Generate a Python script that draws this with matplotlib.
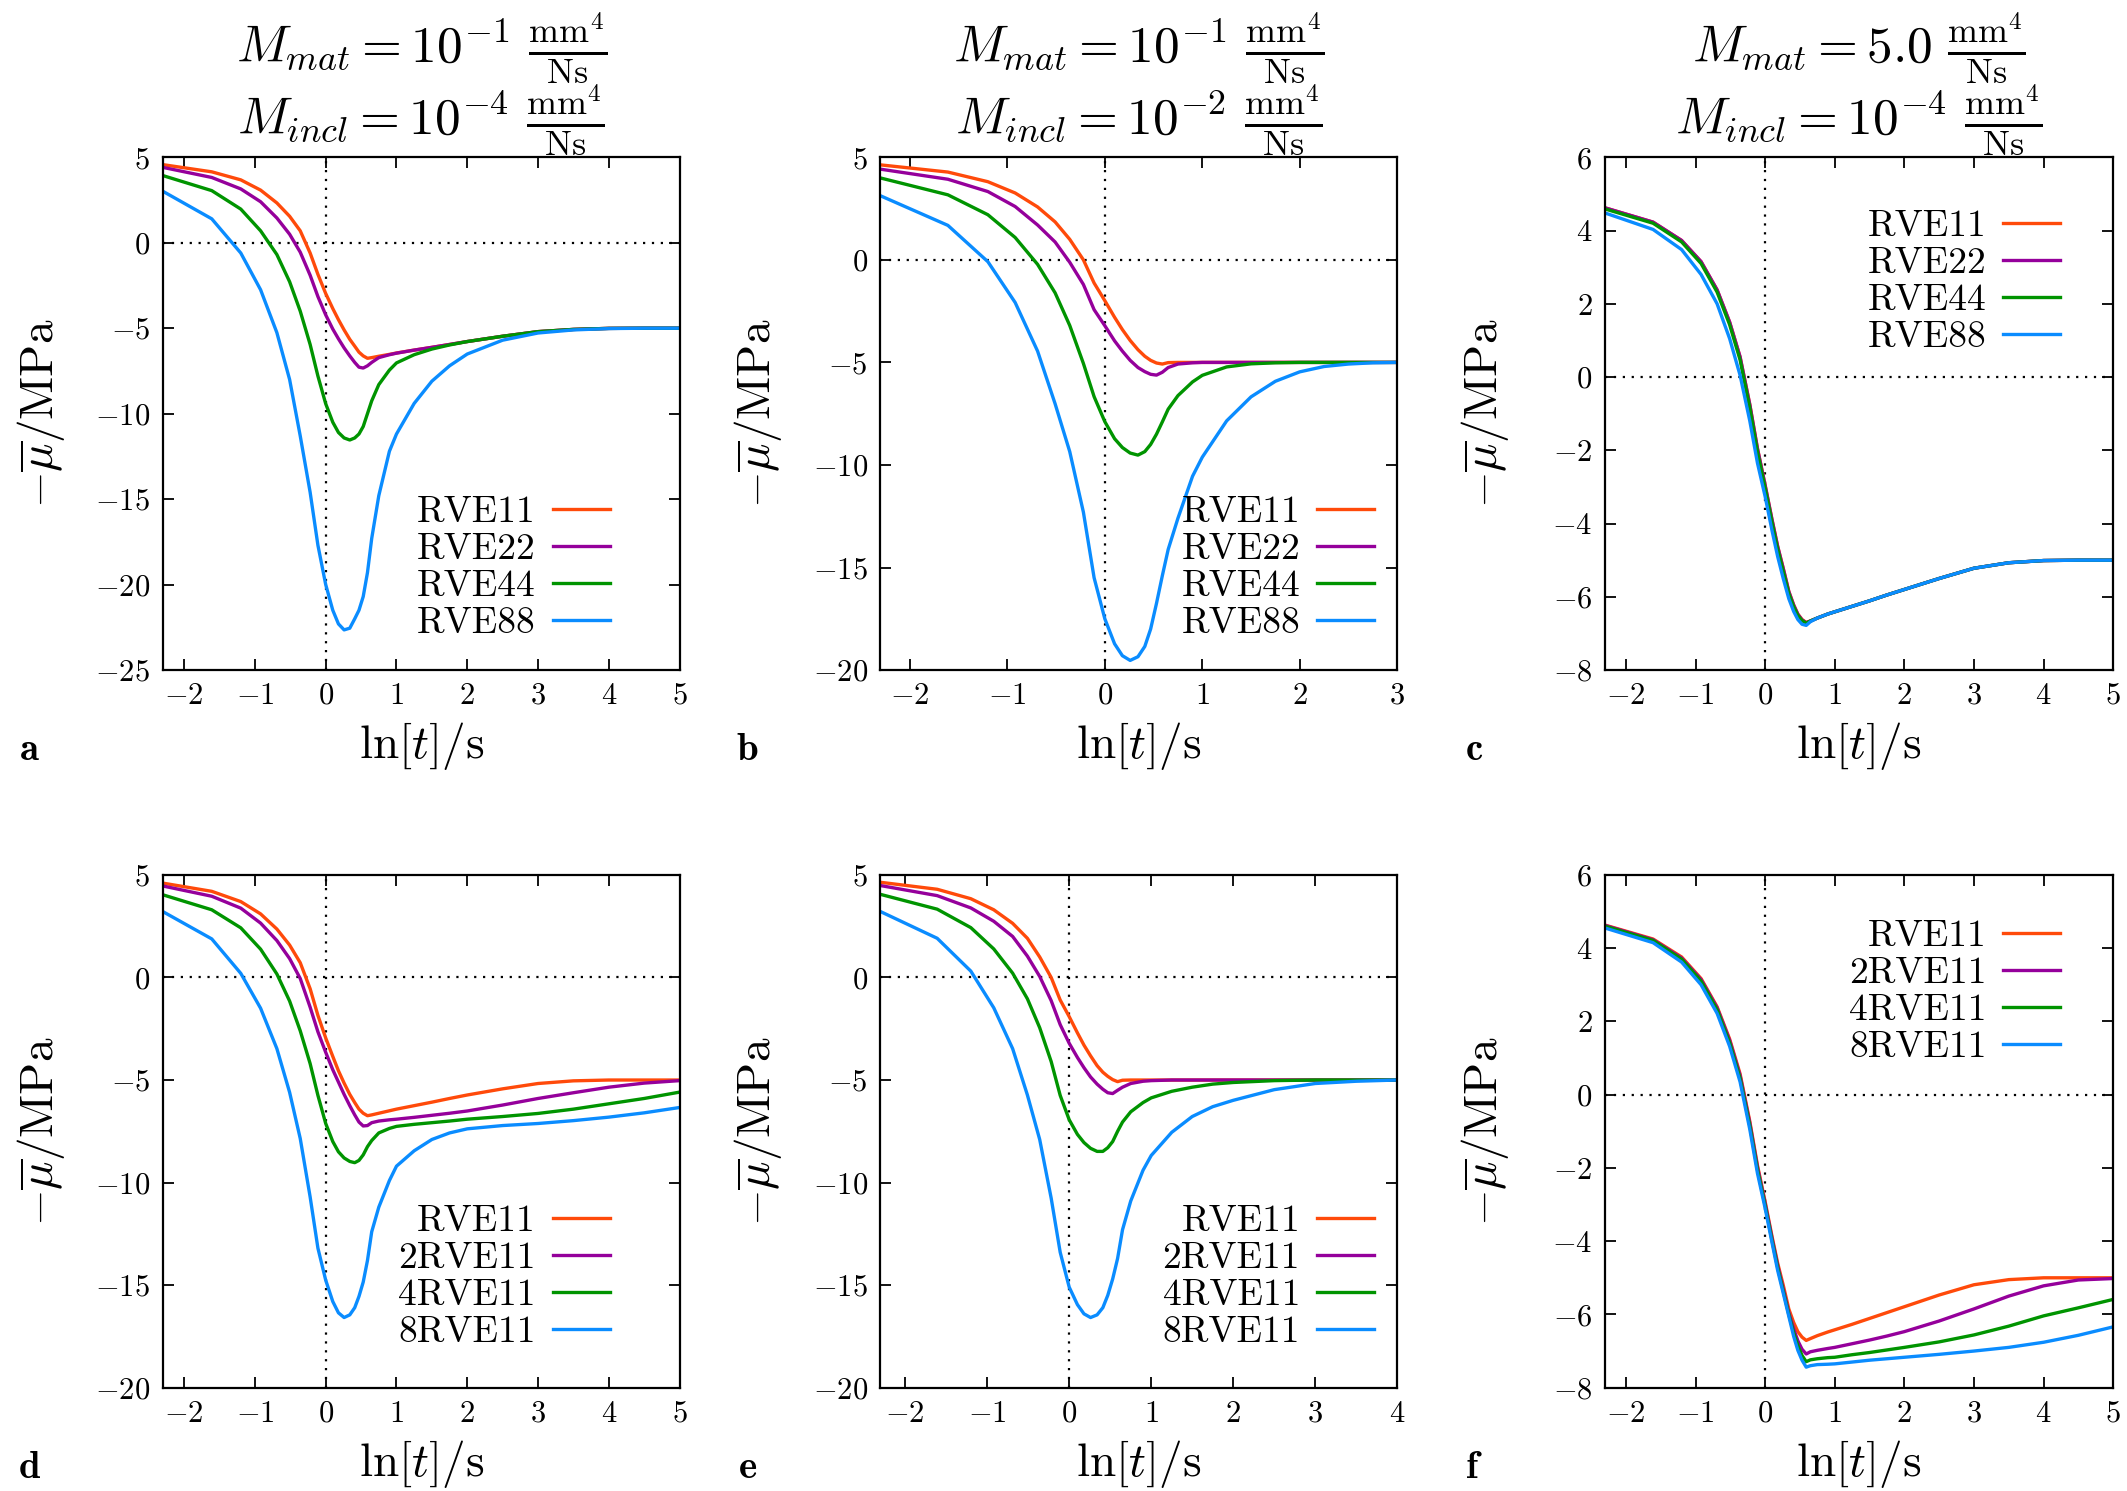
import matplotlib
matplotlib.use("Agg")
import matplotlib.pyplot as plt

plt.rcParams.update({
    "font.family": "serif",
    "font.serif": ["cmr10"],
    "mathtext.fontset": "cm",
    "axes.formatter.use_mathtext": True,
    "axes.unicode_minus": True,
})

# ---------------- data ----------------
XA = [-2.30, -1.61, -1.20, -0.92, -0.69, -0.51, -0.36, -0.22, -0.11, 0.0, 0.10, 0.18,
      0.26, 0.34, 0.41, 0.47, 0.53, 0.59, 0.65, 0.75, 0.9, 1.0, 1.25, 1.5, 1.75, 2.0,
      2.5, 3.0, 3.5, 4.0, 4.5, 5.0]
XB = [-2.30, -1.61, -1.20, -0.92, -0.69, -0.51, -0.36, -0.22, -0.11, 0.0, 0.10, 0.18,
      0.26, 0.34, 0.41, 0.47, 0.53, 0.59, 0.65, 0.75, 0.9, 1.0, 1.25, 1.5, 1.75, 2.0,
      2.25, 2.5, 2.75, 3.0]
XE = [-2.30, -1.61, -1.20, -0.92, -0.69, -0.51, -0.36, -0.22, -0.11, 0.0, 0.10, 0.18,
      0.26, 0.34, 0.41, 0.47, 0.53, 0.59, 0.65, 0.75, 0.9, 1.0, 1.25, 1.5, 1.75, 2.0,
      2.5, 3.0, 3.5, 4.0]

# panel a
a_rve11 = [4.57, 4.15, 3.68, 3.08, 2.33, 1.55, 0.70, -0.60, -1.85, -2.97, -3.85, -4.50,
           -5.10, -5.65, -6.05, -6.40, -6.62, -6.76, -6.72, -6.64, -6.53, -6.45, -6.28, -6.12,
           -5.95, -5.78, -5.47, -5.20, -5.07, -5.01, -5.00, -5.00]
a_rve22 = [4.41, 3.82, 3.15, 2.40, 1.45, 0.50, -0.55, -1.90, -3.15, -4.22, -5.05, -5.62,
           -6.15, -6.62, -7.00, -7.28, -7.33, -7.20, -7.00, -6.72, -6.55, -6.46, -6.28, -6.12,
           -5.95, -5.78, -5.47, -5.20, -5.07, -5.01, -5.00, -5.00]
a_rve44 = [3.93, 3.05, 1.97, 0.70, -0.69, -2.28, -4.00, -5.95, -7.80, -9.42, -10.50, -11.10,
           -11.42, -11.54, -11.42, -11.19, -10.75, -10.00, -9.25, -8.30, -7.45, -7.03, -6.55,
           -6.22, -5.98, -5.78, -5.47, -5.20, -5.07, -5.01, -5.00, -5.00]
a_rve88 = [3.01, 1.40, -0.60, -2.75, -5.26, -8.00, -11.30, -14.60, -17.70, -20.00, -21.50,
           -22.30, -22.65, -22.55, -22.00, -21.50, -20.70, -19.30, -17.30, -14.80, -12.20,
           -11.19, -9.40, -8.10, -7.20, -6.51, -5.70, -5.28, -5.10, -5.02, -5.00, -5.00]

# panel b
b_rve11 = [4.63, 4.28, 3.81, 3.26, 2.58, 1.85, 1.00, 0.00, -1.13, -1.99, -2.80, -3.40,
           -3.93, -4.38, -4.70, -4.90, -5.03, -5.08, -5.01, -5.00, -5.00, -5.00, -5.00, -5.00,
           -5.00, -5.00, -5.00, -5.00, -5.00, -5.00]
b_rve22 = [4.42, 3.93, 3.33, 2.60, 1.70, 0.87, -0.12, -1.20, -2.43, -3.21, -3.95, -4.45,
           -4.90, -5.25, -5.45, -5.58, -5.62, -5.48, -5.25, -5.08, -5.02, -5.00, -5.00, -5.00,
           -5.00, -5.00, -5.00, -5.00, -5.00, -5.00]
b_rve44 = [3.99, 3.17, 2.20, 1.09, -0.22, -1.61, -3.20, -5.05, -6.67, -7.89, -8.72, -9.15,
           -9.42, -9.52, -9.35, -9.00, -8.50, -7.90, -7.28, -6.62, -5.95, -5.63, -5.22, -5.07,
           -5.02, -5.00, -5.00, -5.00, -5.00, -5.00]
b_rve88 = [3.12, 1.68, -0.09, -2.08, -4.45, -7.02, -9.35, -12.30, -15.50, -17.50, -18.72,
           -19.30, -19.53, -19.35, -18.85, -18.00, -16.75, -15.40, -14.12, -12.60, -10.55,
           -9.62, -7.85, -6.68, -5.92, -5.46, -5.20, -5.08, -5.02, -5.00]

# panel c
c_rve11 = [4.62, 4.23, 3.73, 3.15, 2.38, 1.50, 0.55, -0.75, -1.95, -2.95, -3.90, -4.62,
           -5.22, -5.85, -6.22, -6.47, -6.62, -6.70, -6.66, -6.58, -6.47, -6.41, -6.26, -6.11,
           -5.95, -5.80, -5.50, -5.22, -5.07, -5.01, -5.00, -5.00]
c_rve22 = [4.62, 4.23, 3.73, 3.15, 2.38, 1.50, 0.55, -0.76, -1.96, -2.96, -3.91, -4.63,
           -5.23, -5.86, -6.23, -6.48, -6.63, -6.71, -6.66, -6.58, -6.47, -6.41, -6.26, -6.11,
           -5.95, -5.80, -5.50, -5.22, -5.07, -5.01, -5.00, -5.00]
c_rve44 = [4.59, 4.20, 3.69, 3.10, 2.32, 1.43, 0.47, -0.84, -2.04, -3.03, -3.98, -4.70,
           -5.30, -5.91, -6.27, -6.51, -6.65, -6.72, -6.66, -6.58, -6.47, -6.41, -6.26, -6.11,
           -5.95, -5.80, -5.50, -5.22, -5.07, -5.01, -5.00, -5.00]
c_rve88 = [4.48, 4.03, 3.48, 2.80, 2.00, 1.05, 0.05, -1.20, -2.35, -3.26, -4.20, -4.90,
           -5.50, -6.05, -6.40, -6.62, -6.75, -6.78, -6.68, -6.58, -6.47, -6.41, -6.26, -6.11,
           -5.95, -5.80, -5.50, -5.22, -5.07, -5.01, -5.00, -5.00]

# panel d
d_1 = [4.60, 4.20, 3.70, 3.10, 2.36, 1.58, 0.72, -0.55, -1.85, -2.95, -3.85, -4.55,
       -5.15, -5.70, -6.10, -6.42, -6.62, -6.74, -6.70, -6.62, -6.50, -6.42, -6.25, -6.08,
       -5.90, -5.73, -5.43, -5.17, -5.04, -5.00, -5.00, -5.00]
d_2 = [4.46, 3.96, 3.38, 2.65, 1.80, 0.92, -0.05, -1.45, -2.65, -3.65, -4.50, -5.10,
       -5.70, -6.25, -6.70, -7.05, -7.24, -7.22, -7.08, -7.00, -6.94, -6.91, -6.82, -6.72,
       -6.62, -6.51, -6.22, -5.90, -5.62, -5.35, -5.15, -5.03]
d_4 = [4.03, 3.30, 2.42, 1.38, 0.17, -1.15, -2.60, -4.20, -5.75, -7.12, -8.00, -8.50,
       -8.80, -8.97, -9.03, -8.92, -8.65, -8.25, -7.95, -7.58, -7.36, -7.26, -7.16, -7.08,
       -7.00, -6.91, -6.78, -6.63, -6.42, -6.16, -5.90, -5.59]
d_8 = [3.21, 1.88, 0.20, -1.50, -3.47, -5.60, -7.85, -10.70, -13.20, -14.76, -15.80,
       -16.35, -16.58, -16.45, -16.10, -15.55, -14.85, -13.80, -12.40, -11.20, -9.90, -9.20,
       -8.45, -7.90, -7.58, -7.38, -7.22, -7.12, -6.98, -6.81, -6.60, -6.34]

# panel e
e_1 = [4.64, 4.30, 3.84, 3.30, 2.64, 1.91, 1.00, 0.00, -1.10, -1.91, -2.70, -3.30,
       -3.82, -4.30, -4.62, -4.82, -4.98, -5.08, -5.01, -5.00, -5.00, -5.00, -5.00, -5.00,
       -5.00, -5.00, -5.00, -5.00, -5.00, -5.00]
e_2 = [4.48, 3.99, 3.39, 2.74, 2.00, 1.04, 0.05, -1.13, -2.30, -3.21, -3.90, -4.40,
       -4.85, -5.20, -5.45, -5.62, -5.66, -5.50, -5.35, -5.17, -5.06, -5.03, -5.00, -5.00,
       -5.00, -5.00, -5.00, -5.00, -5.00, -5.00]
e_4 = [4.05, 3.33, 2.43, 1.39, 0.21, -1.04, -2.45, -4.10, -5.75, -6.94, -7.65, -8.05,
       -8.33, -8.48, -8.48, -8.30, -8.00, -7.50, -7.05, -6.55, -6.10, -5.87, -5.55, -5.35,
       -5.20, -5.12, -5.03, -5.00, -5.00, -5.00]
e_8 = [3.21, 1.91, 0.31, -1.48, -3.47, -5.73, -7.90, -10.76, -13.40, -15.10, -15.95,
       -16.40, -16.58, -16.45, -16.10, -15.50, -14.70, -13.70, -12.30, -10.90, -9.40, -8.68,
       -7.55, -6.78, -6.30, -5.99, -5.47, -5.17, -5.06, -5.00]

# panel f
f_1 = [4.63, 4.25, 3.76, 3.17, 2.40, 1.52, 0.57, -0.73, -1.93, -2.92, -3.88, -4.60,
       -5.20, -5.85, -6.22, -6.47, -6.62, -6.71, -6.66, -6.58, -6.48, -6.42, -6.27, -6.11,
       -5.95, -5.79, -5.47, -5.19, -5.05, -5.00, -5.00, -5.00]
f_2 = [4.62, 4.23, 3.73, 3.14, 2.37, 1.48, 0.52, -0.78, -1.98, -2.97, -3.93, -4.66,
       -5.30, -5.95, -6.40, -6.72, -6.95, -7.08, -7.02, -6.98, -6.93, -6.90, -6.80, -6.70,
       -6.59, -6.47, -6.18, -5.85, -5.50, -5.22, -5.06, -5.02]
f_4 = [4.60, 4.21, 3.70, 3.10, 2.32, 1.42, 0.45, -0.85, -2.05, -3.03, -3.99, -4.72,
       -5.36, -6.00, -6.50, -6.85, -7.12, -7.29, -7.24, -7.21, -7.18, -7.17, -7.10, -7.04,
       -6.97, -6.90, -6.75, -6.56, -6.32, -6.04, -5.82, -5.59]
f_8 = [4.55, 4.15, 3.62, 3.00, 2.22, 1.32, 0.35, -0.95, -2.15, -3.10, -4.05, -4.80,
       -5.42, -6.05, -6.60, -6.98, -7.25, -7.44, -7.40, -7.37, -7.36, -7.35, -7.30, -7.25,
       -7.21, -7.17, -7.09, -7.00, -6.90, -6.76, -6.57, -6.34]

labels_top = ["RVE11", "RVE22", "RVE44", "RVE88"]
labels_bot = ["RVE11", "2RVE11", "4RVE11", "8RVE11"]
colors = ["#ff4a0a", "#95009b", "#009400", "#0a8cff"]

titles_1 = [r"$M_{mat} = 10^{-1}\ \frac{\mathrm{mm}^4}{\mathrm{Ns}}$",
            r"$M_{mat} = 10^{-1}\ \frac{\mathrm{mm}^4}{\mathrm{Ns}}$",
            r"$M_{mat} = 5.0\ \frac{\mathrm{mm}^4}{\mathrm{Ns}}$"]
titles_2 = [r"$M_{incl} = 10^{-4}\ \frac{\mathrm{mm}^4}{\mathrm{Ns}}$",
            r"$M_{incl} = 10^{-2}\ \frac{\mathrm{mm}^4}{\mathrm{Ns}}$",
            r"$M_{incl} = 10^{-4}\ \frac{\mathrm{mm}^4}{\mathrm{Ns}}$"]

panels = [
    dict(x=XA, ys=[a_rve11, a_rve22, a_rve44, a_rve88], labels=labels_top, xlim=(-2.303, 5),
         ylim=(-25, 5), yticks=range(-25, 6, 5), xticks=range(-2, 6), letter="a",
         leg=("lower right", (0.865, 0.058))),
    dict(x=XB, ys=[b_rve11, b_rve22, b_rve44, b_rve88], labels=labels_top, xlim=(-2.303, 3),
         ylim=(-20, 5), yticks=range(-20, 6, 5), xticks=range(-2, 4), letter="b",
         leg=("lower right", (0.955, 0.058))),
    dict(x=XA, ys=[c_rve11, c_rve22, c_rve44, c_rve88], labels=labels_top, xlim=(-2.303, 5),
         ylim=(-8, 6), yticks=range(-8, 7, 2), xticks=range(-2, 6), letter="c",
         leg=("upper right", (0.896, 0.897))),
    dict(x=XA, ys=[d_1, d_2, d_4, d_8], labels=labels_bot, xlim=(-2.303, 5),
         ylim=(-20, 5), yticks=range(-20, 6, 5), xticks=range(-2, 6), letter="d",
         leg=("lower right", (0.865, 0.076))),
    dict(x=XE, ys=[e_1, e_2, e_4, e_8], labels=labels_bot, xlim=(-2.303, 4),
         ylim=(-20, 5), yticks=range(-20, 6, 5), xticks=range(-2, 5), letter="e",
         leg=("lower right", (0.955, 0.076))),
    dict(x=XA, ys=[f_1, f_2, f_4, f_8], labels=labels_bot, xlim=(-2.303, 5),
         ylim=(-8, 6), yticks=range(-8, 7, 2), xticks=range(-2, 6), letter="f",
         leg=("upper right", (0.896, 0.913))),
]

fig = plt.figure(figsize=(21.27, 14.91), dpi=100)
lefts = [0.0765, 0.4139, 0.7545]
widths = [0.243, 0.243, 0.239]
bottoms = [0.5506, 0.0693]
height = 0.3439

for i, p in enumerate(panels):
    r, c = divmod(i, 3)
    ax = fig.add_axes([lefts[c], bottoms[r], widths[c], height])
    ax.axhline(0, color="black", ls=(0, (1, 3)), lw=1.6, zorder=1)
    ax.axvline(0, color="black", ls=(0, (1, 3)), lw=1.6, zorder=1)
    for y, lab, col in zip(p["ys"], p["labels"], colors):
        ax.plot(p["x"], y, color=col, lw=2.4, label=lab, zorder=2)
    ax.set_xlim(*p["xlim"])
    ax.set_ylim(*p["ylim"])
    ax.set_xticks(list(p["xticks"]))
    ax.set_yticks(list(p["yticks"]))
    ax.tick_params(direction="in", top=True, right=True, length=8, width=1.3,
                   labelsize=22, pad=9)
    for s in ax.spines.values():
        s.set_linewidth(1.6)
    ax.set_xlabel(r"$\ln[t]/\mathrm{s}$", fontsize=34, va="center")
    ax.xaxis.set_label_coords(0.5, -0.148)
    ax.set_ylabel(r"$-\overline{\mu}/\mathrm{MPa}$", fontsize=34, va="center")
    ax.yaxis.set_label_coords(-0.236, 0.5)
    ax.text(-0.257, -0.156, r"$\mathbf{%s}$" % p["letter"], transform=ax.transAxes,
            fontsize=28, ha="center", va="center")
    ax.legend(loc=p["leg"][0], bbox_to_anchor=p["leg"][1], frameon=False,
              markerfirst=False, fontsize=27, handlelength=1.52, handletextpad=0.45,
              labelspacing=0.1, borderpad=0, borderaxespad=0)
    if r == 0:
        ax.text(0.5, 1.214, titles_1[c], transform=ax.transAxes, fontsize=37,
                ha="center", va="center")
        ax.text(0.5, 1.074, titles_2[c], transform=ax.transAxes, fontsize=37,
                ha="center", va="center")

fig.savefig("out.png", dpi=100)
